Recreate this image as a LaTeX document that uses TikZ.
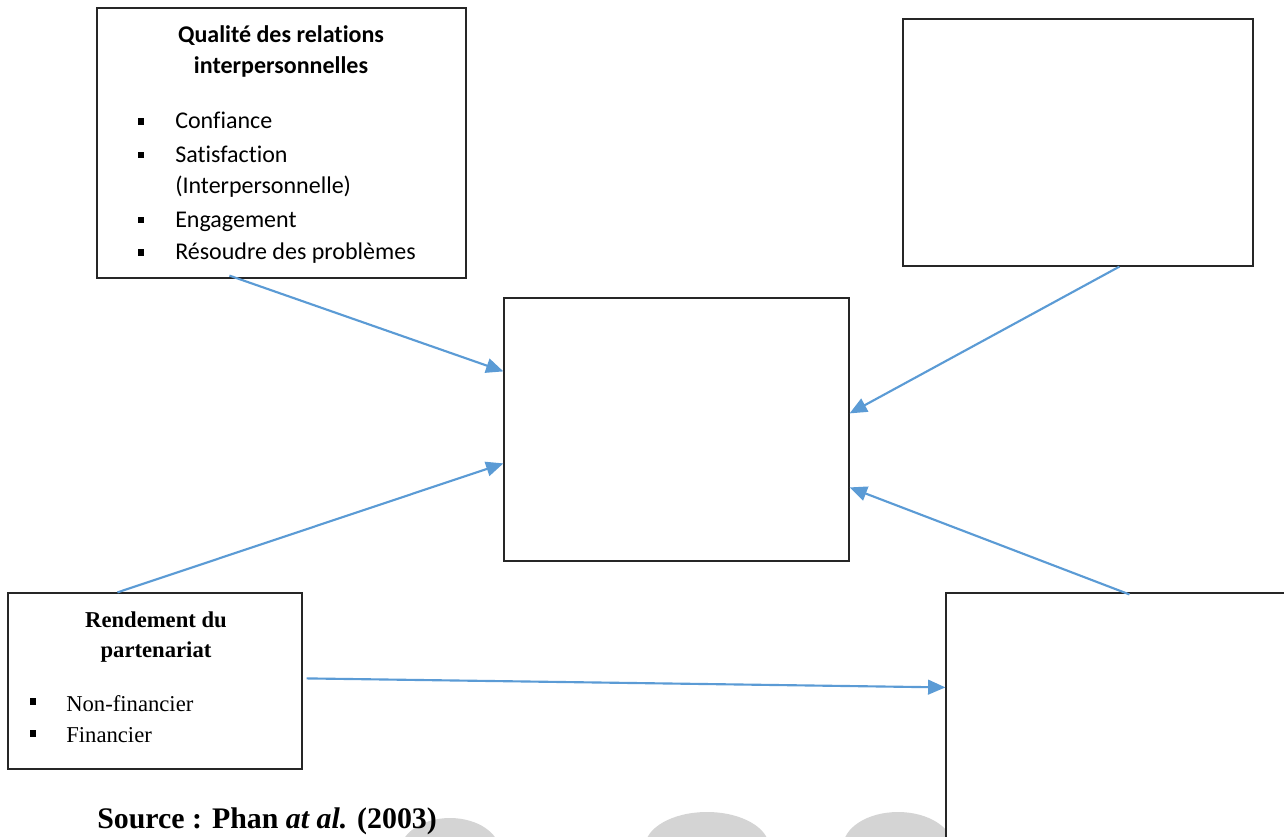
\documentclass[tikz,border=0pt]{standalone}
\usepackage{fontspec}
\setmainfont{Liberation Serif}
\newfontfamily\calibri[Ligatures=NoCommon]{Carlito}
\usetikzlibrary{arrows.meta,calc,fit}
\definecolor{arrblue}{HTML}{5B9BD5}
\begin{document}
\begin{tikzpicture}[x=0.75pt,y=-0.75pt,
  box/.style={draw=black!85,line width=0.9pt,inner sep=0pt},
  arr/.style={draw=arrblue,line width=1.6pt,-{Triangle[length=13pt,width=11pt]}},
  bul/.style={fill=black,minimum size=5pt,inner sep=0pt},
  cal/.style={font=\calibri\fontsize{18}{23.25}\selectfont,inner sep=0pt},
  ser/.style={font=\fontsize{17}{22.5}\selectfont,inner sep=0pt},
  item/.style={anchor=base west}]
\useasboundingbox (0,0) rectangle (1284,836);
\clip (0,0) rectangle (1284,836);
% faint watermark
\fill[black!17] (450,852) ellipse [x radius=50, y radius=34];
\fill[black!17] (707,847) ellipse [x radius=62, y radius=35];
\fill[black!17] (898,847) ellipse [x radius=55, y radius=35];
% boxes
\node[box,fit={(97,8) (466,278)}] (A) {};
\node[box,fit={(903,19) (1253,266)}] (B) {};
\node[box,fit={(504,298) (849,561)}] (C) {};
\node[box,fit={(8,593) (302,769)}] (D) {};
\node[box,fill=white,fit={(946,593) (1300,860)}] (E) {};
% box A text
\node[cal,font=\calibri\bfseries\fontsize{18}{23.25}\selectfont,align=center,anchor=base] (At) at (281,73) {Qualité des relations\\interpersonnelles};
\node[cal,item] (a1) at (175,128) {Confiance};
\node[cal,item] (a2) at (175,162) {Satisfaction};
\node[cal,item] (a3) at (175,193) {(Interpersonnelle)};
\node[cal,item] (a4) at (175,227) {Engagement};
\node[cal,item] (a5) at (175,259) {Résoudre des problèmes};
\node[bul] (b1) at (141,121.5) {};
\node[bul] (b2) at (141,155) {};
\node[bul] (b4) at (141,220) {};
\node[bul] (b5) at (141,252.5) {};
% box D text
\node[ser,font=\bfseries\fontsize{17}{22.5}\selectfont,align=center,anchor=base] (Dt) at (156,657) {Rendement du\\partenariat};
\node[ser,item] (d1) at (66,711) {Non-financier};
\node[ser,item] (d2) at (66,742) {Financier};
\node[bul] (db1) at (33,701.5) {};
\node[bul] (db2) at (33,733.5) {};
% source
\node[anchor=base west,inner sep=0pt,font=\bfseries\fontsize{22.4}{26}\selectfont] (src) at (97,828) {Source : Phan \textit{at al.} (2003)};
% connectors
\coordinate (s1) at ($(A.south west)+(133,-3)$);
\coordinate (e1) at ($(C.north west)+(0,74)$);
\coordinate (s2) at ($(B.south west)+(217,0)$);
\coordinate (e2) at ($(C.north east)+(0,116)$);
\coordinate (s3) at ($(D.north west)+(110,0)$);
\coordinate (e3) at ($(C.north west)+(0,166)$);
\coordinate (s4) at ($(E.north west)+(184,2)$);
\coordinate (e4) at ($(C.north east)+(0,190)$);
\coordinate (s5) at ($(D.north east)+(4,86)$);
\coordinate (e5) at ($(E.north west)+(0,95)$);
\draw[arr] (s1) -- (e1);
\draw[arr] (s2) -- (e2);
\draw[arr] (s3) -- (e3);
\draw[arr] (s4) -- (e4);
\draw[arr] (s5) -- (e5);
\end{tikzpicture}
\end{document}
